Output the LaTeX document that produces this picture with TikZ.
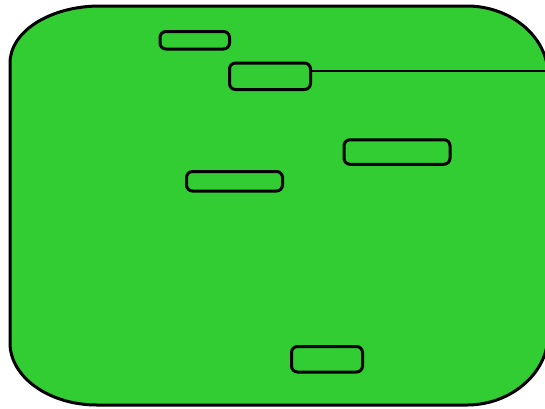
\documentclass[tikz,border=0pt]{standalone}
\definecolor{lime}{RGB}{50,205,50}
\begin{document}
\begin{tikzpicture}[x=1bp,y=-1bp,
  box/.style={draw=black,line width=3bp,rounded corners=6bp,fill=lime,inner sep=0pt},
  conn/.style={draw=black,line width=2bp}]
\useasboundingbox (0,0) rectangle (545,408);
\begin{scope}
\clip (0,0) rectangle (545,408);
\path[fill=lime,draw=black,line width=3bp]
  (10,63) .. controls (10,31.5) and (50,6) .. (100,6)
  -- (467,6) .. controls (511,6) and (548,37) .. (548,75)
  -- (548,335) .. controls (548,373) and (511,405) .. (467,405)
  -- (97,405) .. controls (49,405) and (10,377) .. (10,343) -- cycle;
\end{scope}
\node[box,minimum width=69.5bp,minimum height=17.5bp] (n1) at (194.75,40.25) {};
\node[box,minimum width=81bp,minimum height=26.5bp] (n2) at (270,76.25) {};
\node[box,minimum width=106bp,minimum height=24.5bp] (n3) at (397,152) {};
\node[box,minimum width=96bp,minimum height=19.5bp] (n4) at (234.5,181.25) {};
\node[box,minimum width=71bp,minimum height=25.5bp] (n5) at (327,359.25) {};
\coordinate (r) at (545,71);
\draw[conn] (r -| n2.east) -- (r);
\end{tikzpicture}
\end{document}
